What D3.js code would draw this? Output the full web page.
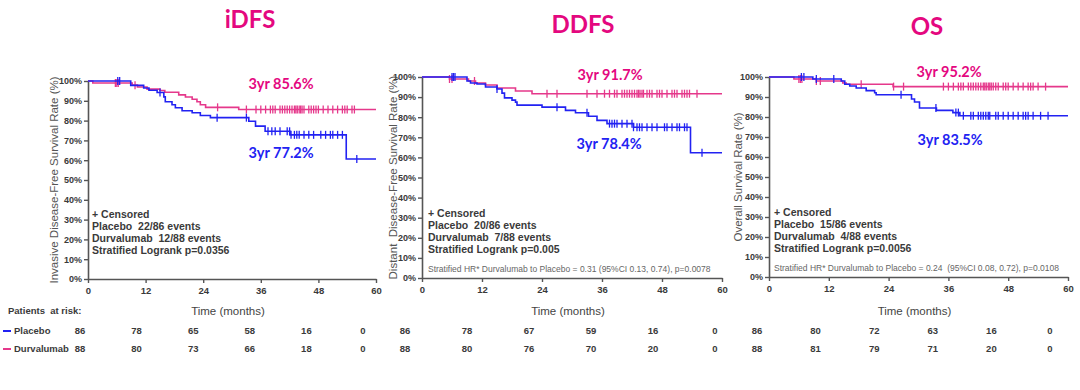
<!DOCTYPE html>
<html><head><meta charset="utf-8">
<script src="https://cdn.jsdelivr.net/npm/d3@7"></script>
<style>
body{margin:0;background:#fff;}
svg{display:block;font-family:"Liberation Sans",Arial,sans-serif;}
text{white-space:pre;}
</style></head>
<body><svg id="c" width="1080" height="390"></svg>
<script>
// ---------- data ----------
const xTicks = [0, 12, 24, 36, 48, 60];
const yTicks = [0, 10, 20, 30, 40, 50, 60, 70, 80, 90, 100];
const titles = ["iDFS", "DDFS", "OS"];
const yLabels = ["Invasive Disease-Free Survival Rate (%)", "Distant  Disease-Free Survival Rate (%)", "Overall Survival Rate (%)"];
const durvaLabels = ["3yr 85.6%", "3yr 91.7%", "3yr 95.2%"];
const placeboLabels = ["3yr 77.2%", "3yr 78.4%", "3yr 83.5%"];
const eventsPlacebo = ["Placebo  22/86 events", "Placebo  20/86 events", "Placebo  15/86 events"];
const eventsDurva = ["Durvalumab  12/88 events", "Durvalumab  7/88 events", "Durvalumab  4/88 events"];
const logrank = ["Stratified Logrank p=0.0356", "Stratified Logrank p=0.005", "Stratified Logrank p=0.0056"];
const hrText = ["", "Stratified HR* Durvalumab to Placebo = 0.31 (95%CI 0.13, 0.74), p=0.0078", "Stratified HR* Durvalumab to Placebo = 0.24  (95%CI 0.08, 0.72), p=0.0108"];

const idfsPlacebo = [[0,100],[8.9,97.8],[11.6,96.5],[12.7,95.3],[14.4,94.2],[15.8,92],[16.1,89.5],[17.5,88],[18.2,86.5],[19.6,85],[21.7,84],[23.4,82.6],[25.5,81.5],[33.5,79.7],[34.9,77.2],[36.9,74.6],[42.1,72.8],[53.8,60.6]];
const idfsDurva = [[0,100],[1,99],[9.2,97.9],[10.3,97],[12.3,95.9],[15,95.2],[16,94.3],[18.9,93],[20.3,91.9],[21.7,90.8],[22.7,89.5],[23.4,88],[24.5,86.7],[31.4,85.6]];
const idfsPlaceboCens = [6.2,6.6,15,26.9,33,37.5,38.3,39,40,41.5,42,42.3,43,43.5,44,45,46,47,48.5,49.5,50.5,51,52,53,56];
const idfsDurvaCens = [5.7,6,6.3,9.8,27,33,35,36,37,38,38.5,39,40,40.5,41,41.5,42,42.5,43,43.3,43.6,44,44.3,44.6,45,46,46.5,47,47.5,48,49,50,51,52,53,53.5,54,55,55.5];

const ddfsPlacebo = [[0,100],[9,98],[9.7,97],[11,96.5],[12.7,95],[15,94],[16,92],[16.5,89.6],[18,88.5],[18.7,87.5],[19,86],[24,85],[28.7,83.4],[30.7,82.2],[33.3,80.5],[35,78.4],[37,76.8],[42.3,75],[53.7,62.3]];
const ddfsDurva = [[0,100],[5.5,99],[9.3,98],[10.7,97],[12.7,96],[15,94.5],[18.7,93],[22,91.7]];
const ddfsPlaceboCens = [6,6.3,6.6,15,27,33,37.5,38,38.5,39,40,41,42,42.3,43,43.5,44,45,46,47,48.5,49,50,51,51.5,52.5,53,56];
const ddfsDurvaCens = [5.5,6,10.5,25,27,33,35,36.5,37.5,38.5,39,40,40.5,41,41.5,42,42.5,43,43.3,43.6,44,44.3,45,45.5,46,47,47.5,48,49,50,50.5,51,52,52.5,53,53.5,55];

const osPlacebo = [[0,100],[8.8,99],[14.5,98],[15.2,96.4],[16.2,95.5],[17.5,94.5],[19.5,93.2],[21.2,92.1],[21.5,91.1],[28.6,89],[29.2,87.5],[30.2,84.5],[33.6,83.3],[36.9,82.2],[38.3,80.6]];
const osDurva = [[0,100],[5,99],[9.5,98],[14.8,97],[15.5,96.4],[24.9,95.2]];
const osPlaceboCens = [6.5,7,9.5,13,26.5,33.5,37.5,38,39,40.5,41,42,42.5,43,43.5,44,44.3,45.5,46,47,48,49,50,51,51.5,52,53,54.5,56];
const osDurvaCens = [6,6.3,6.6,9.5,10.3,18.5,25,27,35,36,37,38,38.5,39,40,40.5,41,41.5,42,42.5,43,43.3,43.6,44,44.3,44.6,45,45.5,46,47,47.5,48,49,50,51,52,52.5,53,54,55.5];

const riskPlacebo = [[86,78,65,58,16,0],[86,78,67,59,16,0],[86,80,72,63,16,0]];
const riskDurva = [[88,80,73,66,18,0],[88,80,76,70,20,0],[88,81,79,71,20,0]];

// ---------- layout ----------
const BLUE = "#2222f2", PINK = "#e5388b", MAG = "#e4087f", TXT = "#3a3a3a";
const NARROW = "'Liberation Sans Narrow','Liberation Sans',Arial,sans-serif";
const panels = [
  {x0:88, x1:376, y0:279, y1:81, placebo:idfsPlacebo, durva:idfsDurva, pc:idfsPlaceboCens, dc:idfsDurvaCens, title:[250,28], yl:54, risk:[80,363], dl:[281,89], pl:[281,158], tb:[92,214]},
  {x0:422, x1:722, y0:278, y1:77, placebo:ddfsPlacebo, durva:ddfsDurva, pc:ddfsPlaceboCens, dc:ddfsDurvaCens, title:[583,33], yl:393, risk:[405,715], dl:[610,80], pl:[609,149], tb:[428,213]},
  {x0:769, x1:1068, y0:277, y1:77, placebo:osPlacebo, durva:osDurva, pc:osPlaceboCens, dc:osDurvaCens, title:[927,35], yl:738, risk:[757,1050], dl:[949,77], pl:[950,145], tb:[774,212]}
];

const svg = d3.select("#c");

function stepAt(steps, t){ let v = steps[0][1]; for (const s of steps){ if (s[0] <= t) v = s[1]; } return v; }

panels.forEach((p, i) => {
  const x = d3.scaleLinear().domain([0, 60]).range([p.x0, p.x1]);
  const y = d3.scaleLinear().domain([0, 100]).range([p.y0, p.y1]);
  const g = svg.append("g");

  // title
  g.append("text").attr("x", p.title[0]).attr("y", p.title[1]).attr("text-anchor","middle")
    .attr("font-family","Lato, 'Open Sans', sans-serif").attr("font-weight","bold").attr("font-size",24)
    .attr("fill", MAG).text(titles[i]);

  // axes
  const ax = g.append("g").attr("transform", `translate(0,${p.y0})`)
    .call(d3.axisBottom(x).tickValues(xTicks).tickSize(4).tickSizeOuter(0).tickPadding(4));
  const ay = g.append("g").attr("transform", `translate(${p.x0},0)`)
    .call(d3.axisLeft(y).tickValues(yTicks).tickFormat(d => d + "%").tickSize(4).tickSizeOuter(0).tickPadding(2));
  [ax, ay].forEach(a => {
    a.select(".domain").attr("stroke", "#555").attr("stroke-width", 1.6);
    a.selectAll(".tick line").attr("stroke", "#555").attr("stroke-width", 1.4);
    a.selectAll(".tick text").attr("fill", TXT).attr("font-size", 9).attr("font-weight", "bold")
      .attr("font-family", NARROW);
  });
  ax.selectAll(".tick text").attr("font-size", 9.5);

  // y label
  g.append("text").attr("transform", `translate(${p.yl},${(p.y0 + p.y1) / 2}) rotate(-90)`)
    .attr("text-anchor","middle").attr("dy","0.35em").attr("font-size",11.5).attr("fill","#555").text(yLabels[i]);
  // x label
  g.append("text").attr("x", (p.x0 + p.x1) / 2 - 4).attr("y", 315).attr("text-anchor","middle")
    .attr("font-size",11.5).attr("fill","#444").text("Time (months)");

  // curves
  const line = d3.line().x(d => x(d[0])).y(d => y(d[1])).curve(d3.curveStepAfter);
  [[p.durva, p.dc, PINK], [p.placebo, p.pc, BLUE]].forEach(([steps, cens, col]) => {
    const pts = steps.concat([[60, steps[steps.length - 1][1]]]);
    g.append("path").attr("d", line(pts)).attr("fill","none").attr("stroke", col).attr("stroke-width", 1.6);
    g.selectAll(null).data(cens).enter().append("line")
      .attr("x1", d => x(d)).attr("x2", d => x(d))
      .attr("y1", d => y(stepAt(steps, d)) - 4).attr("y2", d => y(stepAt(steps, d)) + 4)
      .attr("stroke", col).attr("stroke-width", 1.3);
  });

  // 3yr labels
  g.append("text").attr("x", p.dl[0]).attr("y", p.dl[1]).attr("text-anchor","middle")
    .attr("font-family","Lato, 'Open Sans', sans-serif").attr("font-weight","bold").attr("font-size",14.5)
    .attr("fill", MAG).text(durvaLabels[i]);
  g.append("text").attr("x", p.pl[0]).attr("y", p.pl[1]).attr("text-anchor","middle")
    .attr("font-family","Lato, 'Open Sans', sans-serif").attr("font-weight","bold").attr("font-size",14.5)
    .attr("fill", BLUE).text(placeboLabels[i]);

  // text box
  const lines = ["+ Censored", eventsPlacebo[i], eventsDurva[i], logrank[i]];
  lines.forEach((t, k) => {
    g.append("text").attr("x", p.tb[0]).attr("y", p.tb[1] + k * 12).attr("dy","0.35em")
      .attr("font-size", 10.5).attr("font-weight","bold").attr("fill", TXT)
      .attr("font-family", NARROW).text(t);
  });
  if (hrText[i]) {
    g.append("text").attr("x", p.tb[0]).attr("y", p.tb[1] + 56).attr("dy","0.35em")
      .attr("font-size", 8.5).attr("fill", "#666")
      .attr("font-family", NARROW).text(hrText[i]);
  }

  // risk table
  const rx = d3.scaleLinear().domain([0, 60]).range(p.risk);
  [[riskPlacebo[i], 331], [riskDurva[i], 349]].forEach(([vals, yy]) => {
    g.selectAll(null).data(xTicks).enter().append("text")
      .attr("x", d => rx(d)).attr("y", yy).attr("dy","0.35em").attr("text-anchor","middle")
      .attr("font-size", 9.5).attr("font-weight","bold").attr("fill", TXT)
      .attr("font-family", NARROW)
      .text((d, k) => vals[k]);
  });
});

// risk table legend
svg.append("text").attr("x", 8).attr("y", 311).attr("dy","0.35em").attr("font-size", 9.5).attr("font-weight","bold")
  .attr("fill", TXT).attr("font-family", NARROW).text("Patients  at risk:");
[["Placebo", BLUE, 331], ["Durvalumab", PINK, 349]].forEach(([t, c, yy]) => {
  svg.append("line").attr("x1", 3).attr("x2", 11).attr("y1", yy).attr("y2", yy).attr("stroke", c).attr("stroke-width", 2);
  svg.append("text").attr("x", 14).attr("y", yy).attr("dy","0.35em").attr("font-size", 9.5).attr("font-weight","bold")
    .attr("fill", TXT).attr("font-family", NARROW).text(t);
});
</script></body></html>
